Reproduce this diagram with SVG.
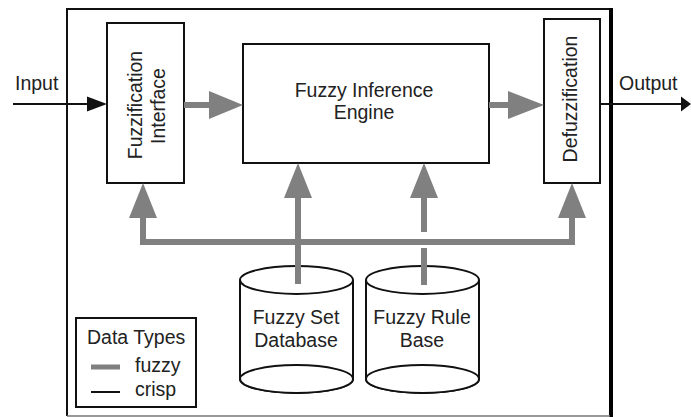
<svg xmlns="http://www.w3.org/2000/svg" width="691" height="417" viewBox="0 0 691 417">
<style>
.box{fill:#fff;stroke:#111;stroke-width:2}
.t{font-family:"Liberation Sans",Arial,sans-serif;font-size:19.5px;fill:#222}
.c{text-anchor:middle}
.fz{stroke:#808080;stroke-width:6;fill:none}
.fh{fill:#808080;stroke:none}
.cr{stroke:#111;stroke-width:2;fill:none}
.ch{fill:#111;stroke:none}
</style>
<rect width="691" height="417" fill="#fff"/>
<g id="outer">
<path d="M67,416 V9 H610" fill="none" stroke="#111" stroke-width="2"/>
<line x1="611" y1="8" x2="611" y2="417" stroke="#000" stroke-width="4"/>
<line x1="67" y1="416" x2="610" y2="416" stroke="#777" stroke-width="1.5"/>
</g>
<g id="fuzzification">
<rect class="box" x="107" y="23" width="77" height="160"/>
<text class="t c" transform="translate(142,105) rotate(-90)">Fuzzification</text>
<text class="t c" transform="translate(165,106) rotate(-90)">Interface</text>
</g>
<g id="engine">
<rect class="box" x="243" y="44" width="246" height="119"/>
<text class="t c" x="364" y="97">Fuzzy Inference</text>
<text class="t c" x="364" y="119">Engine</text>
</g>
<g id="defuzzification">
<rect class="box" x="544" y="19" width="56" height="164"/>
<text class="t c" transform="translate(577,99) rotate(-90)">Defuzzification</text>
</g>
<g id="fuzzyset">
<path class="box" d="M240,280 V379 A56.5,14 0 0 0 353,379 V280"/>
<ellipse class="box" cx="296.5" cy="379" rx="56.5" ry="14"/>
<ellipse class="box" cx="296.5" cy="280" rx="56.5" ry="14"/>
<text class="t c" x="296" y="324">Fuzzy Set</text>
<text class="t c" x="296" y="347">Database</text>
</g>
<g id="rulebase">
<path class="box" d="M366,280 V379 A56.5,14 0 0 0 479,379 V280"/>
<ellipse class="box" cx="422.5" cy="379" rx="56.5" ry="14"/>
<ellipse class="box" cx="422.5" cy="280" rx="56.5" ry="14"/>
<text class="t c" x="422" y="324">Fuzzy Rule</text>
<text class="t c" x="422" y="347">Base</text>
</g>
<g id="legend">
<rect class="box" x="76" y="318" width="120" height="89"/>
<text class="t" x="87" y="344">Data Types</text>
<line x1="91" y1="367" x2="120" y2="367" stroke="#808080" stroke-width="5"/>
<text class="t" x="135" y="372">fuzzy</text>
<line x1="91" y1="392" x2="120" y2="392" stroke="#111" stroke-width="2"/>
<text class="t" x="135" y="396">crisp</text>
</g>
<g id="connectors">
<line class="cr" x1="13" y1="104" x2="90" y2="104"/>
<polygon class="ch" points="107,104 87,96.5 87,111.5"/>
<text class="t" x="15" y="90">Input</text>
<line class="cr" x1="600" y1="104" x2="683" y2="104"/>
<polygon class="ch" points="691,104 681,96.5 681,111.5"/>
<text class="t" x="619" y="90">Output</text>
<line class="fz" x1="184" y1="105" x2="211" y2="105"/>
<polygon class="fh" points="243,105 209,91 209,119"/>
<line class="fz" x1="489" y1="105" x2="510" y2="105"/>
<polygon class="fh" points="544,105 508,91 508,119"/>
<path class="fz" d="M143,216 V242 H572 V216"/>
<polygon class="fh" points="143,183 129,218 157,218"/>
<polygon class="fh" points="572,183 558,218 586,218"/>
<line class="fz" x1="298" y1="284" x2="298" y2="196"/>
<polygon class="fh" points="298,163 284,198 312,198"/>
<line class="fz" x1="424" y1="196" x2="424" y2="232"/>
<line class="fz" x1="424" y1="248" x2="424" y2="285"/>
<polygon class="fh" points="424,163 410,198 438,198"/>
</g>
</svg>
